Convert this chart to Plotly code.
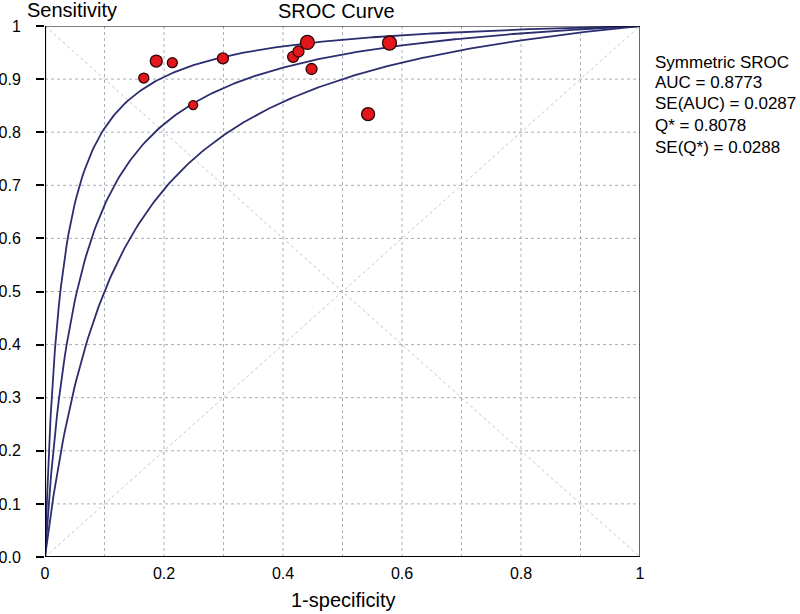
import numpy as np
import plotly.graph_objects as go

# Study points (1-specificity, sensitivity, marker size ~ weight)
fpr = [0.166, 0.187, 0.214, 0.299, 0.249, 0.417, 0.426, 0.441, 0.448, 0.543, 0.579]
sens = [0.902, 0.934, 0.931, 0.939, 0.851, 0.942, 0.952, 0.969, 0.919, 0.834, 0.968]
weights = [10, 12, 10, 11, 9, 11, 11, 14, 11, 13, 14]

# SROC curves defined by their symmetric point Q (upper band, Q*, lower band)
q_values = [0.860, 0.8078, 0.750]

stats_lines = ["Symmetric SROC", "AUC = 0.8773", "SE(AUC) = 0.0287",
               "Q* = 0.8078", "SE(Q*) = 0.0288"]

x_ticks = [0, 0.2, 0.4, 0.6, 0.8, 1]
x_tick_text = ["0", "0.2", "0.4", "0.6", "0.8", "1"]
y_ticks = [0, 0.1, 0.2, 0.3, 0.4, 0.5, 0.6, 0.7, 0.8, 0.9, 1]
y_tick_text = ["0.0", "0.1", "0.2", "0.3", "0.4", "0.5", "0.6", "0.7", "0.8", "0.9", "1"]

FONT = "Liberation Sans, Arial, Helvetica, sans-serif"

fig = go.Figure()

# diagonals
for dx, dy in (([0, 1], [0, 1]), ([0, 1], [1, 0])):
    fig.add_trace(go.Scatter(x=dx, y=dy, mode="lines",
                             line=dict(color="#c2c6ce", width=1, dash="dot"),
                             hoverinfo="skip", showlegend=False))

# SROC curves
u = np.concatenate([np.linspace(1e-5, 0.02, 60), np.linspace(0.02, 0.99999, 300)])
lu = np.log(u / (1 - u))
for q in q_values:
    d = 2 * np.log(q / (1 - q))
    tpr = 1 / (1 + np.exp(-(d + lu)))
    xs = np.concatenate([[0], u, [1]])
    ys = np.concatenate([[0], tpr, [1]])
    fig.add_trace(go.Scatter(x=xs, y=ys, mode="lines",
                             line=dict(color="#2b2d6e", width=1.8),
                             hoverinfo="skip", showlegend=False))

# study points
fig.add_trace(go.Scatter(x=fpr, y=sens, mode="markers",
                         marker=dict(color="#e3161b", size=weights, opacity=1,
                                     line=dict(color="#2a0505", width=1.3)),
                         showlegend=False))

fig.update_layout(
    width=800, height=614,
    margin=dict(l=45, r=160, t=26, b=57),
    paper_bgcolor="white", plot_bgcolor="white",
    font=dict(family=FONT, size=16, color="black"),
    xaxis=dict(range=[0, 1], tickvals=x_ticks, ticktext=x_tick_text,
               showgrid=False, zeroline=False, showline=False, automargin=False,
               ticks="", tickfont=dict(size=16), ticklabelstandoff=5,
               fixedrange=True),
    yaxis=dict(range=[0, 1], tickvals=y_ticks, ticktext=y_tick_text,
               showgrid=False, zeroline=False, showline=False, automargin=False,
               ticks="outside", ticklen=8, tickwidth=1.5, tickcolor="black",
               tickfont=dict(size=16), ticklabelstandoff=12, fixedrange=True),
)

# dotted grid lines every 0.1
grid = [i / 10 for i in range(1, 10)]
for g in grid:
    fig.add_shape(type="line", x0=g, x1=g, y0=0, y1=1, xref="x", yref="y",
                  line=dict(color="#a8aebb", width=1, dash="dot"), layer="below")
    fig.add_shape(type="line", x0=0, x1=1, y0=g, y1=g, xref="x", yref="y",
                  line=dict(color="#a8aebb", width=1, dash="dot"), layer="below")

# frame: thick left/bottom, thin top/right
fig.add_shape(type="line", x0=0, x1=1, y0=1, y1=1, xref="x", yref="y",
              line=dict(color="black", width=1.2))
fig.add_shape(type="line", x0=1, x1=1, y0=0, y1=1, xref="x", yref="y",
              line=dict(color="black", width=1.2))
fig.add_shape(type="line", x0=0, x1=1, y0=0, y1=0, xref="x", yref="y",
              line=dict(color="black", width=2.2))
fig.add_shape(type="line", x0=0, x1=0, y0=0, y1=1, xref="x", yref="y",
              line=dict(color="black", width=2.2))

# titles
fig.add_annotation(text="Sensitivity", x=0, y=1, xref="paper", yref="paper",
                   xanchor="left", yanchor="middle", xshift=-20, yshift=16,
                   showarrow=False, font=dict(size=20))
fig.add_annotation(text="SROC Curve", x=0.49, y=1, xref="paper", yref="paper",
                   xanchor="center", yanchor="middle", yshift=15,
                   showarrow=False, font=dict(size=20))
fig.add_annotation(text="1-specificity", x=0.5, y=0, xref="paper", yref="paper",
                   xanchor="center", yanchor="middle", yshift=-43,
                   showarrow=False, font=dict(size=20))

# statistics block
line_offsets = [-36, -56, -77, -99, -121]
for txt, off in zip(stats_lines, line_offsets):
    fig.add_annotation(text=txt, x=1, y=1, xref="paper", yref="paper",
                       xanchor="left", yanchor="middle", xshift=13, yshift=off,
                       align="left", showarrow=False, font=dict(size=17))

fig.write_html(
    "out.html",
    config={"displayModeBar": False},
    post_script="document.body.style.margin='0';document.body.style.overflow='hidden';",
)
